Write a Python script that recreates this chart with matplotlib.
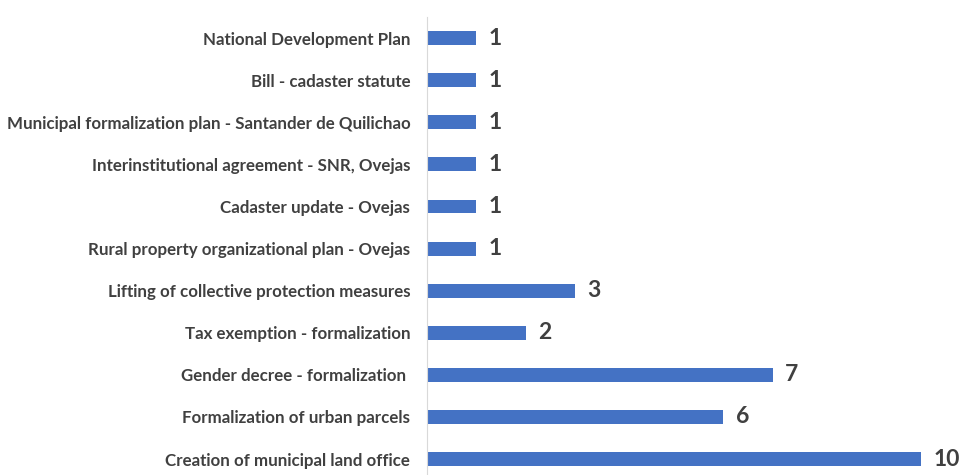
import matplotlib.pyplot as plt

categories = [
    "Creation of municipal land office",
    "Formalization of urban parcels",
    "Gender decree - formalization ",
    "Tax exemption - formalization",
    "Lifting of collective protection measures",
    "Rural property organizational plan - Ovejas",
    "Cadaster update - Ovejas",
    "Interinstitutional agreement - SNR, Ovejas",
    "Municipal formalization plan - Santander de Quilichao",
    "Bill - cadaster statute",
    "National Development Plan",
]
values = [10, 6, 7, 2, 3, 1, 1, 1, 1, 1, 1]

plt.rcParams['font.family'] = ['Lato', 'DejaVu Sans']

fig = plt.figure(figsize=(9.66, 4.75), dpi=100)
ax = fig.add_axes([0.442, 0.0, 0.558, 0.964])

ypos = range(len(categories))
ax.barh(ypos, values, height=0.33, color='#4472C4')

for y, v in zip(ypos, values):
    ax.text(v + 0.25, y, str(v), va='center', ha='left', fontsize=16.5,
            fontweight='bold', color='#404040')

ax.set_yticks(list(ypos))
ax.set_yticklabels(categories, fontsize=12.2, fontweight='bold', color='#404040')
ax.tick_params(axis='y', length=0, pad=12)
ax.set_xticks([])
ax.set_xlim(0, 10.91)
ax.set_ylim(-0.38, 10.5)

for s in ['top', 'right', 'bottom']:
    ax.spines[s].set_visible(False)
ax.spines['left'].set_color('#D9D9D9')

fig.savefig("out.png", dpi=100)
